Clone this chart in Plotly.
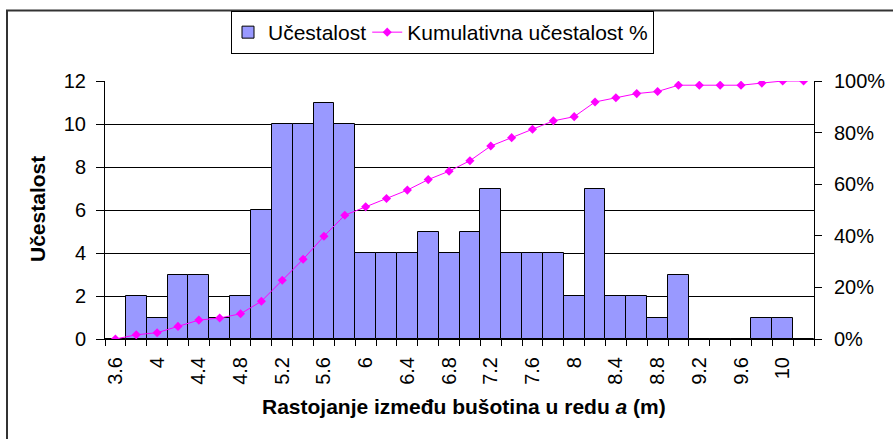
import plotly.graph_objects as go

# Histogram bins (m), counts and cumulative percentage
bins = [3.6, 3.8, 4.0, 4.2, 4.4, 4.6, 4.8, 5.0, 5.2, 5.4, 5.6, 5.8, 6.0, 6.2, 6.4, 6.6, 6.8,
        7.0, 7.2, 7.4, 7.6, 7.8, 8.0, 8.2, 8.4, 8.6, 8.8, 9.0, 9.2, 9.4, 9.6, 9.8, 10.0, 10.2]
counts = [0, 2, 1, 3, 3, 1, 2, 6, 10, 10, 11, 10, 4, 4, 4, 5, 4,
          5, 7, 4, 4, 4, 2, 7, 2, 2, 1, 3, 0, 0, 0, 1, 1, 0]
cum_pct = [0.00, 1.63, 2.44, 4.88, 7.32, 8.13, 9.76, 14.63, 22.76, 30.89, 39.84, 47.97,
           51.22, 54.47, 57.72, 61.79, 65.04, 69.11, 74.80, 78.05, 81.30, 84.55, 86.18,
           91.87, 93.50, 95.12, 95.93, 98.37, 98.37, 98.37, 98.37, 99.19, 100.00, 100.00]

tick_vals = [3.6, 4.0, 4.4, 4.8, 5.2, 5.6, 6.0, 6.4, 6.8, 7.2, 7.6, 8.0, 8.4, 8.8, 9.2, 9.6, 10.0]
tick_text = ["3.6", "4", "4.4", "4.8", "5.2", "5.6", "6", "6.4", "6.8", "7.2", "7.6", "8",
             "8.4", "8.8", "9.2", "9.6", "10"]
bin_edges = [round(3.5 + 0.2 * i, 1) for i in range(len(bins) + 1)]

FONT = "Liberation Sans, Arial, sans-serif"
TICK_SIZE = 20
TEXT_SIZE = 21
W, H = 893, 439
ML, MR, MT, MB = 105, 79, 81, 100
PW, PH = W - ML - MR, H - MT - MB


def px_x(p):
    return (p - ML) / PW


def px_y(p):
    return (H - MB - p) / PH


fig = go.Figure()

fig.add_trace(go.Bar(
    x=bins, y=counts, width=0.2, name="Učestalost",
    marker=dict(color="#9999FF", line=dict(color="black", width=1)),
    yaxis="y",
))

fig.add_trace(go.Scatter(
    x=bins, y=cum_pct, name="Kumulativna učestalost %",
    mode="lines+markers",
    line=dict(color="#FF00FF", width=1),
    marker=dict(symbol="diamond", size=7, color="#FF00FF"),
    yaxis="y2",
))

xr = [3.5, 10.3]

fig.update_layout(
    width=W, height=H,
    margin=dict(l=ML, r=MR, t=MT, b=MB, autoexpand=False),
    paper_bgcolor="white", plot_bgcolor="white",
    font=dict(family=FONT, size=TICK_SIZE, color="black"),
    bargap=0,
    showlegend=True,
    legend=dict(
        orientation="h", x=px_x(231), y=px_y(11), xanchor="left", yanchor="top",
        bordercolor="black", borderwidth=1, bgcolor="white",
        font=dict(family=FONT, size=TEXT_SIZE), itemwidth=30,
        tracegroupgap=0, indentation=-4,
    ),
    xaxis=dict(
        range=xr, tickmode="array", tickvals=tick_vals, ticktext=tick_text,
        tickangle=-90, ticks="", showgrid=False, zeroline=False, automargin=False,
        showline=True, linecolor="black", linewidth=1, ticklabelstandoff=9,
        minor=dict(tickmode="array", tickvals=bin_edges, ticks="outside",
                   ticklen=6, tickcolor="black", tickwidth=1, showgrid=False),
    ),
    xaxis2=dict(
        range=xr, overlaying="x", anchor="y", side="bottom", automargin=False,
        tickmode="array", tickvals=bin_edges, ticks="inside", ticklen=7,
        tickcolor="black", showticklabels=False, showgrid=False, zeroline=False,
    ),
    yaxis=dict(
        range=[0, 12], dtick=2, tick0=0, ticks="outside", ticklen=8, automargin=False,
        tickcolor="black", showgrid=True, gridcolor="black", gridwidth=1,
        zeroline=False, showline=True, linecolor="black", linewidth=1,
        ticklabelstandoff=6,
    ),
    yaxis2=dict(
        range=[0, 100], dtick=20, tick0=0, ticksuffix="%", overlaying="y",
        side="right", anchor="x", ticks="outside", ticklen=7, tickcolor="black",
        showgrid=False, zeroline=False, showline=True, linecolor="black", linewidth=1,
        ticklabelstandoff=8, automargin=False,
    ),
    yaxis3=dict(
        range=[0, 100], dtick=20, tick0=0, overlaying="y", side="right", anchor="x",
        ticks="inside", ticklen=7, tickcolor="black", showticklabels=False,
        showgrid=False, zeroline=False, automargin=False,
    ),
)

# Axis titles
fig.add_annotation(
    text="<b>Rastojanje između bušotina u redu <i>a</i> (m)</b>",
    xref="paper", yref="paper", x=px_x(464), y=px_y(406),
    xanchor="center", yanchor="middle", showarrow=False,
    font=dict(family=FONT, size=TEXT_SIZE, color="black"),
)
fig.add_annotation(
    text="<b>Učestalost</b>",
    xref="paper", yref="paper", x=px_x(37), y=px_y(209),
    xanchor="center", yanchor="middle", showarrow=False, textangle=-90,
    font=dict(family=FONT, size=TEXT_SIZE, color="black"),
)

# Chart-area frame (top and left edges)
fig.add_shape(type="rect", xref="paper", yref="paper",
              x0=px_x(7), x1=px_x(900), y0=px_y(450), y1=px_y(10.5),
              line=dict(color="#333333", width=2), fillcolor="rgba(0,0,0,0)", layer="below")

fig.write_html("out.html")
